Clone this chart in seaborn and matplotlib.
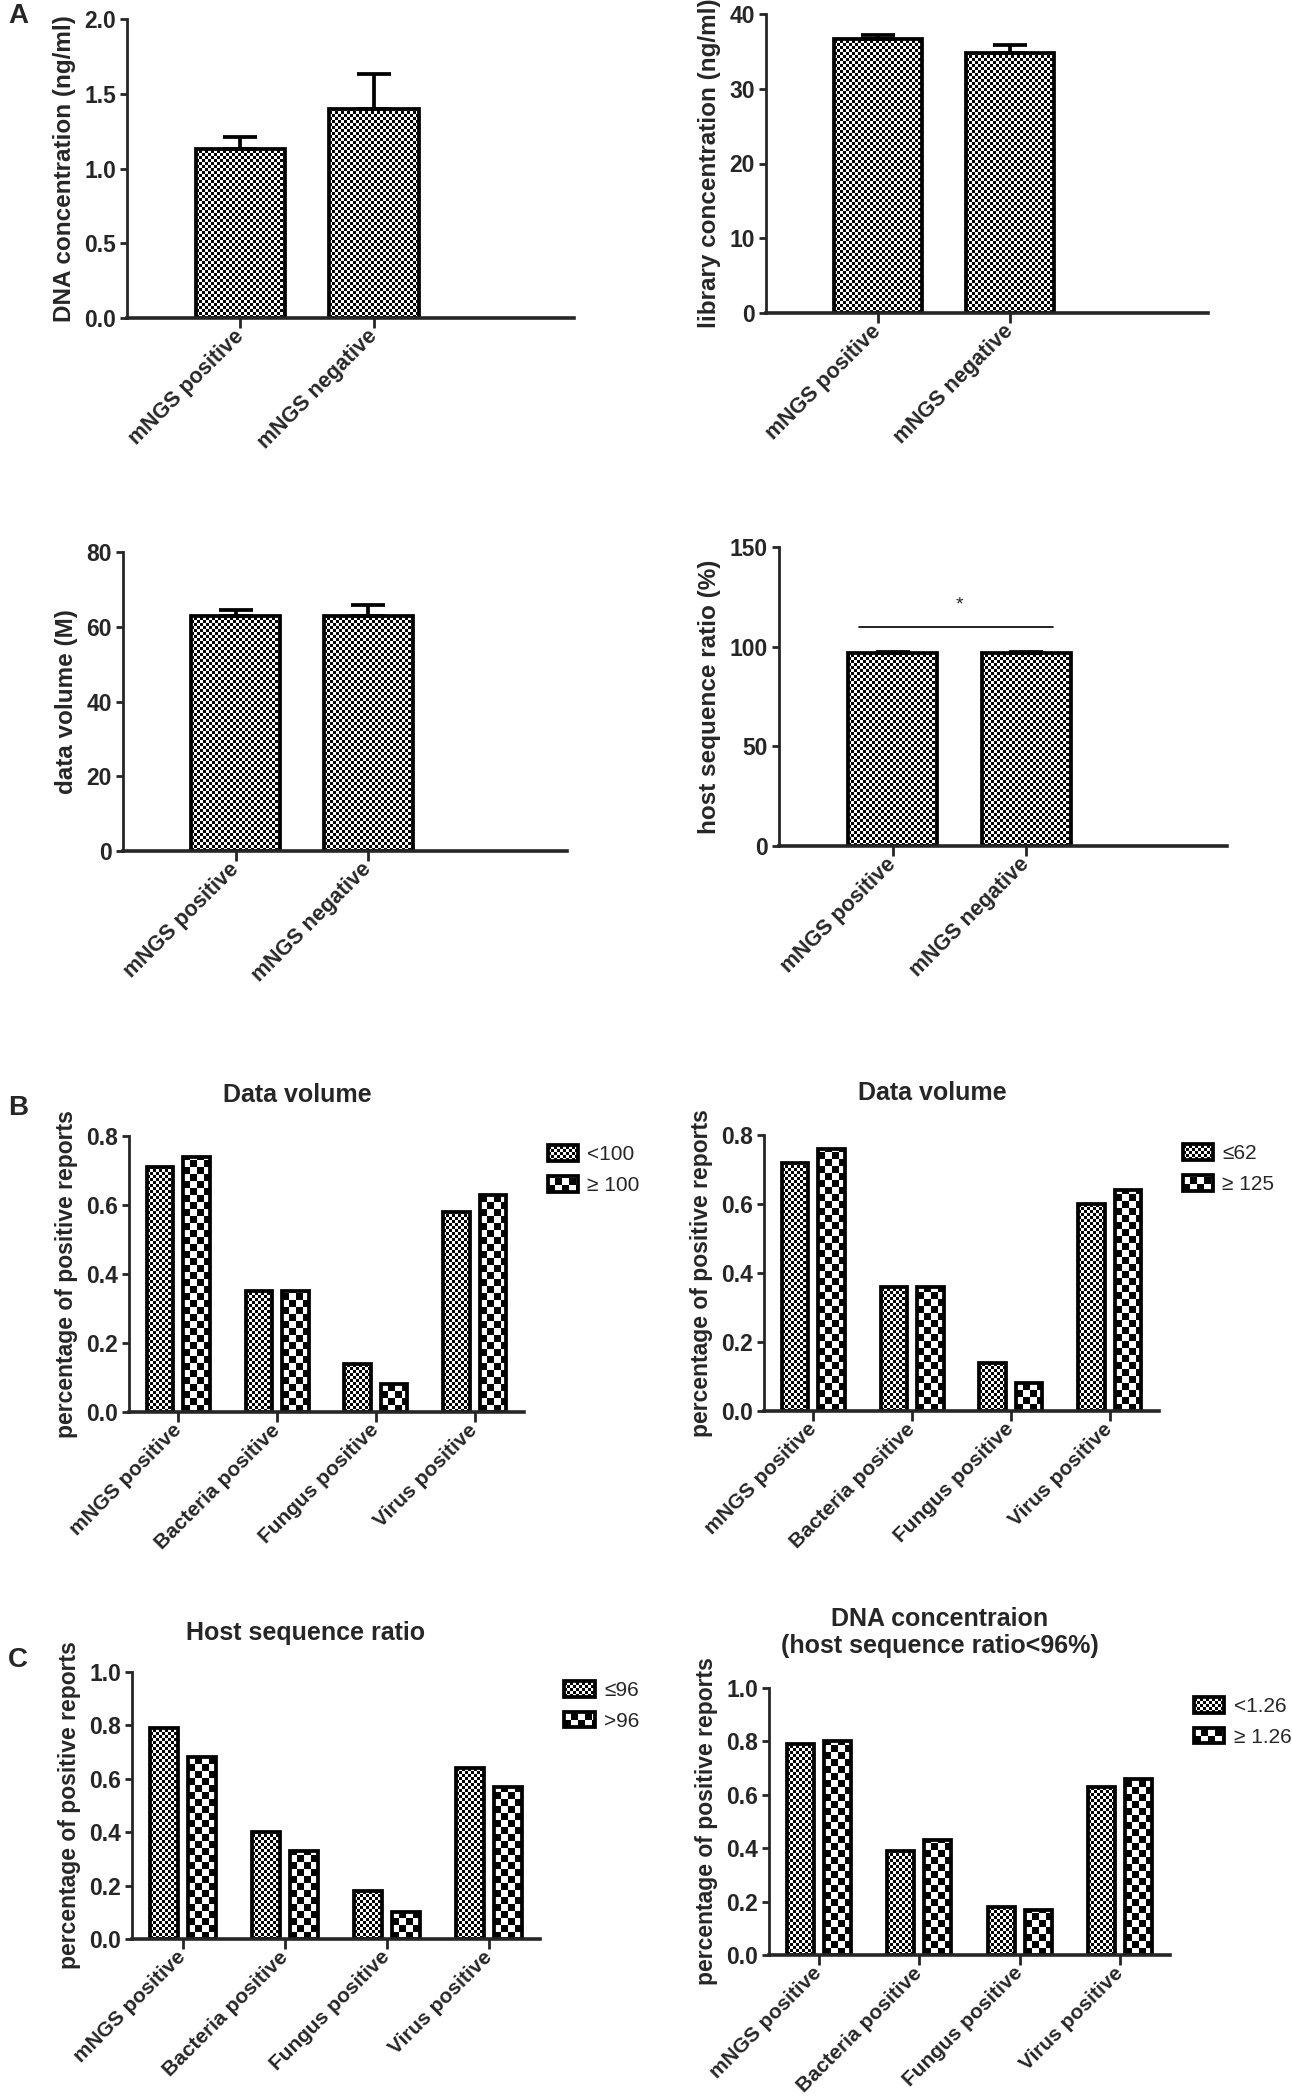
import matplotlib
matplotlib.use('Agg')
import matplotlib.pyplot as plt
from matplotlib.patches import Patch
import numpy as np
import pandas as pd
import seaborn as sns

# panel A: group means and SEM
GROUPS_A = ['mNGS positive', 'mNGS negative']
DNA_MEAN = [1.13, 1.40]
DNA_SEM = [0.08, 0.23]
LIB_MEAN = [36.6, 34.8]
LIB_SEM = [0.6, 1.0]
VOL_MEAN = [62.9, 62.9]
VOL_SEM = [1.7, 2.9]
HOST_MEAN = [96.7, 97.0]
HOST_SEM = [0.4, 0.3]

# panels B and C: share of positive reports
CATEGORIES = ['mNGS positive', 'Bacteria positive', 'Fungus positive', 'Virus positive']
VOL100_LABELS = ['<100', '≥ 100']
VOL100_LOW = [0.71, 0.35, 0.14, 0.58]
VOL100_HIGH = [0.74, 0.35, 0.08, 0.63]
VOL62_LABELS = ['≤62', '≥ 125']
VOL62_LOW = [0.72, 0.36, 0.14, 0.60]
VOL62_HIGH = [0.76, 0.36, 0.08, 0.64]
HOST96_LABELS = ['≤96', '>96']
HOST96_LOW = [0.79, 0.40, 0.18, 0.64]
HOST96_HIGH = [0.68, 0.33, 0.10, 0.57]
DNA126_LABELS = ['<1.26', '≥ 1.26']
DNA126_LOW = [0.79, 0.39, 0.18, 0.63]
DNA126_HIGH = [0.80, 0.43, 0.17, 0.66]

W, H = 1292, 2098
EDGE = 2.7
FINE, COARSE = 3, 7


def rect(left, top, right, bottom):
    return [left / W, 1 - bottom / H, (right - left) / W, (bottom - top) / H]


def checker_fill(fig, patch, size, renderer=None):
    x0, y0, x1, y1 = patch.get_window_extent(renderer).extents
    w, h = int(round(x1 - x0)), int(round(y1 - y0))
    if w < 1 or h < 1:
        return
    yy, xx = np.mgrid[0:h, 0:w]
    board = ((yy // size + xx // size) % 2).astype(float)
    fig.figimage(board, xo=int(round(x0)), yo=int(round(y0)), cmap='gray',
                 vmin=0, vmax=1, origin='lower', zorder=-1)


def style_axes(ax, xsize):
    ax.set_facecolor('none')
    sns.despine(ax=ax)
    ax.spines['left'].set_linewidth(2.0)
    ax.spines['bottom'].set_linewidth(2.6)
    ax.tick_params(axis='x', length=7, width=2, pad=4)
    ax.tick_params(axis='y', length=5, width=2, pad=3)
    for lab in ax.get_yticklabels():
        lab.set_fontsize(16.5)
        lab.set_fontweight('bold')
    for lab in ax.get_xticklabels():
        lab.set_fontsize(xsize)
        lab.set_fontweight('bold')
        lab.set_rotation(45)
        lab.set_ha('right')
        lab.set_va('center')
        lab.set_rotation_mode('anchor')


def mean_panel(fig, ax, means, sems, ylabel, yticks, fmt):
    sns.barplot(x=GROUPS_A, y=means, width=0.67, color='white', edgecolor='black',
                linewidth=EDGE, ax=ax)
    bars = ax.containers[0]
    xs = [p.get_x() + p.get_width() / 2 for p in bars]
    ax.errorbar(xs, means, yerr=[np.zeros(len(sems)), sems], fmt='none', ecolor='black',
                elinewidth=EDGE, capsize=12, capthick=EDGE)
    ax.set_xlim(-0.85, 2.5)
    ax.set_ylim(0, yticks[-1])
    ax.set_yticks(yticks, labels=[fmt.format(v) for v in yticks])
    ax.set_ylabel(ylabel, fontsize=17.5, fontweight='bold', labelpad=6)
    style_axes(ax, 15.5)
    for p in bars:
        p.set_facecolor('none')
        checker_fill(fig, p, FINE)


def group_panel(fig, ax, low, high, labels, title, title_y, yticks):
    df = pd.DataFrame({
        'category': CATEGORIES * 2,
        'value': low + high,
        'group': [labels[0]] * len(low) + [labels[1]] * len(high),
    })
    sns.barplot(data=df, x='category', y='value', hue='group', hue_order=labels,
                width=0.74, gap=0.27, palette={labels[0]: 'white', labels[1]: 'white'},
                edgecolor='black', linewidth=EDGE, legend=False, ax=ax)
    ax.set_xlim(-0.5, 3.5)
    ax.set_ylim(0, yticks[-1])
    ax.set_yticks(yticks, labels=[f'{v:.1f}' for v in yticks])
    ax.set_xlabel('')
    ax.set_ylabel('percentage of positive reports', fontsize=16.5, fontweight='bold', labelpad=6)
    ax.text(0.425, title_y, title, transform=ax.transAxes, ha='center', va='center',
            fontsize=18, fontweight='bold', linespacing=1.2)
    style_axes(ax, 15)
    for container, size in zip(ax.containers, [FINE, COARSE]):
        for p in container:
            p.set_facecolor('none')
            checker_fill(fig, p, size)
    handles = [Patch(facecolor='none', edgecolor='black', linewidth=EDGE, label=l) for l in labels]
    leg = ax.legend(handles=handles, loc='upper left', bbox_to_anchor=(1.06, 0.966),
                    frameon=False, fontsize=15, handlelength=1.45, handleheight=0.78,
                    handletextpad=0.45, labelspacing=0.55, borderpad=0, borderaxespad=0)
    return leg


sns.set_style('ticks')
plt.rcParams['font.family'] = ['Liberation Sans', 'DejaVu Sans']

fig = plt.figure(figsize=(W / 100, H / 100), dpi=100)
fig.patch.set_facecolor('white')

ax_dna = fig.add_axes(rect(127, 19, 574, 318))
mean_panel(fig, ax_dna, DNA_MEAN, DNA_SEM, 'DNA concentration (ng/ml)',
           [0.0, 0.5, 1.0, 1.5, 2.0], '{:.1f}')

ax_lib = fig.add_axes(rect(766, 14, 1208, 313))
mean_panel(fig, ax_lib, LIB_MEAN, LIB_SEM, 'library concentration (ng/ml)',
           [0, 10, 20, 30, 40], '{:d}')

ax_vol = fig.add_axes(rect(123, 552, 567, 851))
mean_panel(fig, ax_vol, VOL_MEAN, VOL_SEM, 'data volume (M)',
           [0, 20, 40, 60, 80], '{:d}')

ax_host = fig.add_axes(rect(779, 547, 1227, 846))
mean_panel(fig, ax_host, HOST_MEAN, HOST_SEM, 'host sequence ratio (%)',
           [0, 50, 100, 150], '{:d}')
# significance bracket
ax_host.plot([-0.25, 1.2], [110, 110], color='black', linewidth=1.2)
ax_host.text(0.5, 121, '*', ha='center', va='center', fontsize=14)

legends = []
ax_b1 = fig.add_axes(rect(129, 1136, 524, 1412))
legends.append(group_panel(fig, ax_b1, VOL100_LOW, VOL100_HIGH, VOL100_LABELS,
                           'Data volume', 1.149, [0.0, 0.2, 0.4, 0.6, 0.8]))
ax_b2 = fig.add_axes(rect(764, 1135, 1159, 1411))
legends.append(group_panel(fig, ax_b2, VOL62_LOW, VOL62_HIGH, VOL62_LABELS,
                           'Data volume', 1.152, [0.0, 0.2, 0.4, 0.6, 0.8]))
ax_c1 = fig.add_axes(rect(132, 1672, 540, 1939))
legends.append(group_panel(fig, ax_c1, HOST96_LOW, HOST96_HIGH, HOST96_LABELS,
                           'Host sequence ratio', 1.146, [0.0, 0.2, 0.4, 0.6, 0.8, 1.0]))
ax_c2 = fig.add_axes(rect(769, 1688, 1170, 1955))
legends.append(group_panel(fig, ax_c2, DNA126_LOW, DNA126_HIGH, DNA126_LABELS,
                           'DNA concentraion\n(host sequence ratio<96%)', 1.208,
                           [0.0, 0.2, 0.4, 0.6, 0.8, 1.0]))

fig.text(8 / W, 1 - 16 / H, 'A', fontsize=20, fontweight='bold', va='center')
fig.text(8 / W, 1 - 1108 / H, 'B', fontsize=20, fontweight='bold', va='center')
fig.text(8 / W, 1 - 1660 / H, 'C', fontsize=20, fontweight='bold', va='center')

# legend swatches get the same checker fill once their positions are known
fig.canvas.draw()
renderer = fig.canvas.get_renderer()
for leg in legends:
    for handle, size in zip(leg.legend_handles, [FINE, COARSE]):
        checker_fill(fig, handle, size, renderer)

fig.savefig('out.png', dpi=100)
